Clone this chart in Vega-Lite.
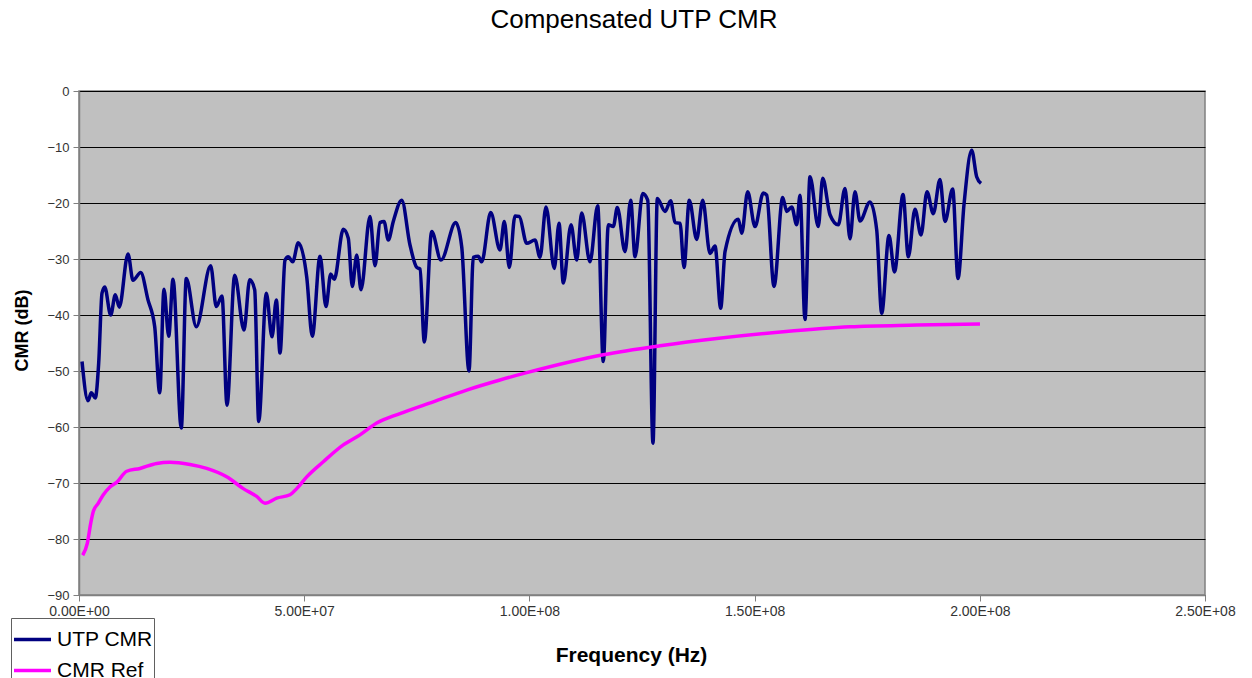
{
  "$schema": "https://vega.github.io/schema/vega-lite/v6.json",
  "width": 1126,
  "height": 504,
  "autosize": {"type": "none"},
  "padding": {"left": 79, "top": 91, "right": 47, "bottom": 83},
  "background": "white",
  "title": {
    "text": "Compensated UTP CMR",
    "font": "Liberation Sans",
    "fontSize": 26,
    "fontWeight": "normal",
    "color": "black",
    "anchor": "middle",
    "offset": 52,
    "dx": -8
  },
  "config": {
    "view": {"fill": "#C0C0C0", "stroke": "#808080", "strokeWidth": 1.5},
    "font": "Liberation Sans"
  },
  "data": {
    "values": [
      {"f": 0.67e6, "cmr": -48.3, "series": "UTP CMR"},
      {"f": 2.00e6, "cmr": -55.3, "series": "UTP CMR"},
      {"f": 2.73e6, "cmr": -53.9, "series": "UTP CMR"},
      {"f": 3.62e6, "cmr": -54.8, "series": "UTP CMR"},
      {"f": 4.37e6, "cmr": -48.6, "series": "UTP CMR"},
      {"f": 5.11e6, "cmr": -36.1, "series": "UTP CMR"},
      {"f": 5.71e6, "cmr": -35.0, "series": "UTP CMR"},
      {"f": 7.04e6, "cmr": -40.0, "series": "UTP CMR"},
      {"f": 8.06e6, "cmr": -36.4, "series": "UTP CMR"},
      {"f": 8.95e6, "cmr": -38.6, "series": "UTP CMR"},
      {"f": 10.88e6, "cmr": -29.1, "series": "UTP CMR"},
      {"f": 11.99e6, "cmr": -33.8, "series": "UTP CMR"},
      {"f": 13.70e6, "cmr": -32.4, "series": "UTP CMR"},
      {"f": 15.32e6, "cmr": -37.3, "series": "UTP CMR"},
      {"f": 16.81e6, "cmr": -42.1, "series": "UTP CMR"},
      {"f": 17.92e6, "cmr": -53.9, "series": "UTP CMR"},
      {"f": 18.87e6, "cmr": -35.4, "series": "UTP CMR"},
      {"f": 19.92e6, "cmr": -43.8, "series": "UTP CMR"},
      {"f": 20.87e6, "cmr": -33.6, "series": "UTP CMR"},
      {"f": 22.71e6, "cmr": -60.2, "series": "UTP CMR"},
      {"f": 23.82e6, "cmr": -33.5, "series": "UTP CMR"},
      {"f": 26.04e6, "cmr": -42.1, "series": "UTP CMR"},
      {"f": 29.24e6, "cmr": -31.2, "series": "UTP CMR"},
      {"f": 30.48e6, "cmr": -38.5, "series": "UTP CMR"},
      {"f": 31.75e6, "cmr": -36.6, "series": "UTP CMR"},
      {"f": 32.86e6, "cmr": -56.1, "series": "UTP CMR"},
      {"f": 34.57e6, "cmr": -32.9, "series": "UTP CMR"},
      {"f": 36.63e6, "cmr": -42.7, "series": "UTP CMR"},
      {"f": 37.90e6, "cmr": -33.7, "series": "UTP CMR"},
      {"f": 39.01e6, "cmr": -35.5, "series": "UTP CMR"},
      {"f": 39.90e6, "cmr": -59.0, "series": "UTP CMR"},
      {"f": 41.59e6, "cmr": -36.1, "series": "UTP CMR"},
      {"f": 42.85e6, "cmr": -43.9, "series": "UTP CMR"},
      {"f": 43.81e6, "cmr": -37.3, "series": "UTP CMR"},
      {"f": 44.63e6, "cmr": -46.8, "series": "UTP CMR"},
      {"f": 45.74e6, "cmr": -30.2, "series": "UTP CMR"},
      {"f": 46.47e6, "cmr": -29.6, "series": "UTP CMR"},
      {"f": 47.45e6, "cmr": -30.5, "series": "UTP CMR"},
      {"f": 48.69e6, "cmr": -27.1, "series": "UTP CMR"},
      {"f": 50.56e6, "cmr": -33.2, "series": "UTP CMR"},
      {"f": 51.80e6, "cmr": -43.8, "series": "UTP CMR"},
      {"f": 53.51e6, "cmr": -29.5, "series": "UTP CMR"},
      {"f": 54.84e6, "cmr": -38.5, "series": "UTP CMR"},
      {"f": 55.88e6, "cmr": -32.7, "series": "UTP CMR"},
      {"f": 56.68e6, "cmr": -33.6, "series": "UTP CMR"},
      {"f": 58.68e6, "cmr": -24.7, "series": "UTP CMR"},
      {"f": 59.79e6, "cmr": -26.3, "series": "UTP CMR"},
      {"f": 60.68e6, "cmr": -34.9, "series": "UTP CMR"},
      {"f": 61.66e6, "cmr": -29.3, "series": "UTP CMR"},
      {"f": 62.61e6, "cmr": -35.5, "series": "UTP CMR"},
      {"f": 64.61e6, "cmr": -22.4, "series": "UTP CMR"},
      {"f": 65.72e6, "cmr": -31.2, "series": "UTP CMR"},
      {"f": 66.83e6, "cmr": -23.5, "series": "UTP CMR"},
      {"f": 67.72e6, "cmr": -23.3, "series": "UTP CMR"},
      {"f": 68.67e6, "cmr": -26.6, "series": "UTP CMR"},
      {"f": 69.78e6, "cmr": -23.3, "series": "UTP CMR"},
      {"f": 71.65e6, "cmr": -19.5, "series": "UTP CMR"},
      {"f": 73.49e6, "cmr": -27.5, "series": "UTP CMR"},
      {"f": 74.98e6, "cmr": -31.5, "series": "UTP CMR"},
      {"f": 75.71e6, "cmr": -31.8, "series": "UTP CMR"},
      {"f": 76.67e6, "cmr": -44.8, "series": "UTP CMR"},
      {"f": 78.31e6, "cmr": -25.1, "series": "UTP CMR"},
      {"f": 80.37e6, "cmr": -30.2, "series": "UTP CMR"},
      {"f": 83.64e6, "cmr": -23.5, "series": "UTP CMR"},
      {"f": 84.97e6, "cmr": -27.8, "series": "UTP CMR"},
      {"f": 86.59e6, "cmr": -50.0, "series": "UTP CMR"},
      {"f": 87.54e6, "cmr": -29.7, "series": "UTP CMR"},
      {"f": 88.65e6, "cmr": -29.5, "series": "UTP CMR"},
      {"f": 89.41e6, "cmr": -30.5, "series": "UTP CMR"},
      {"f": 91.41e6, "cmr": -21.7, "series": "UTP CMR"},
      {"f": 93.47e6, "cmr": -28.4, "series": "UTP CMR"},
      {"f": 94.43e6, "cmr": -23.3, "series": "UTP CMR"},
      {"f": 95.54e6, "cmr": -31.5, "series": "UTP CMR"},
      {"f": 96.80e6, "cmr": -22.3, "series": "UTP CMR"},
      {"f": 97.76e6, "cmr": -22.4, "series": "UTP CMR"},
      {"f": 99.40e6, "cmr": -27.2, "series": "UTP CMR"},
      {"f": 101.24e6, "cmr": -26.6, "series": "UTP CMR"},
      {"f": 102.35e6, "cmr": -29.7, "series": "UTP CMR"},
      {"f": 103.69e6, "cmr": -20.7, "series": "UTP CMR"},
      {"f": 105.53e6, "cmr": -31.7, "series": "UTP CMR"},
      {"f": 106.57e6, "cmr": -23.6, "series": "UTP CMR"},
      {"f": 107.53e6, "cmr": -34.3, "series": "UTP CMR"},
      {"f": 109.24e6, "cmr": -23.9, "series": "UTP CMR"},
      {"f": 110.50e6, "cmr": -30.2, "series": "UTP CMR"},
      {"f": 111.61e6, "cmr": -21.8, "series": "UTP CMR"},
      {"f": 113.45e6, "cmr": -30.5, "series": "UTP CMR"},
      {"f": 115.16e6, "cmr": -20.5, "series": "UTP CMR"},
      {"f": 116.41e6, "cmr": -48.3, "series": "UTP CMR"},
      {"f": 117.52e6, "cmr": -23.9, "series": "UTP CMR"},
      {"f": 118.63e6, "cmr": -24.2, "series": "UTP CMR"},
      {"f": 119.52e6, "cmr": -20.8, "series": "UTP CMR"},
      {"f": 121.23e6, "cmr": -28.7, "series": "UTP CMR"},
      {"f": 122.49e6, "cmr": -19.5, "series": "UTP CMR"},
      {"f": 123.45e6, "cmr": -29.6, "series": "UTP CMR"},
      {"f": 125.16e6, "cmr": -18.3, "series": "UTP CMR"},
      {"f": 126.27e6, "cmr": -19.5, "series": "UTP CMR"},
      {"f": 127.44e6, "cmr": -62.9, "series": "UTP CMR"},
      {"f": 128.40e6, "cmr": -19.2, "series": "UTP CMR"},
      {"f": 130.11e6, "cmr": -21.5, "series": "UTP CMR"},
      {"f": 131.37e6, "cmr": -19.6, "series": "UTP CMR"},
      {"f": 132.33e6, "cmr": -23.5, "series": "UTP CMR"},
      {"f": 133.44e6, "cmr": -23.6, "series": "UTP CMR"},
      {"f": 134.33e6, "cmr": -31.5, "series": "UTP CMR"},
      {"f": 135.50e6, "cmr": -19.5, "series": "UTP CMR"},
      {"f": 137.14e6, "cmr": -26.5, "series": "UTP CMR"},
      {"f": 138.48e6, "cmr": -19.5, "series": "UTP CMR"},
      {"f": 140.10e6, "cmr": -29.0, "series": "UTP CMR"},
      {"f": 141.21e6, "cmr": -27.7, "series": "UTP CMR"},
      {"f": 142.47e6, "cmr": -38.8, "series": "UTP CMR"},
      {"f": 143.43e6, "cmr": -28.7, "series": "UTP CMR"},
      {"f": 146.38e6, "cmr": -22.9, "series": "UTP CMR"},
      {"f": 147.14e6, "cmr": -25.4, "series": "UTP CMR"},
      {"f": 148.47e6, "cmr": -18.0, "series": "UTP CMR"},
      {"f": 150.09e6, "cmr": -24.2, "series": "UTP CMR"},
      {"f": 151.93e6, "cmr": -18.2, "series": "UTP CMR"},
      {"f": 152.69e6, "cmr": -18.6, "series": "UTP CMR"},
      {"f": 154.31e6, "cmr": -34.9, "series": "UTP CMR"},
      {"f": 156.24e6, "cmr": -19.0, "series": "UTP CMR"},
      {"f": 157.13e6, "cmr": -21.5, "series": "UTP CMR"},
      {"f": 158.24e6, "cmr": -20.7, "series": "UTP CMR"},
      {"f": 159.35e6, "cmr": -23.9, "series": "UTP CMR"},
      {"f": 160.08e6, "cmr": -18.6, "series": "UTP CMR"},
      {"f": 161.19e6, "cmr": -40.8, "series": "UTP CMR"},
      {"f": 162.30e6, "cmr": -15.3, "series": "UTP CMR"},
      {"f": 164.14e6, "cmr": -24.2, "series": "UTP CMR"},
      {"f": 165.12e6, "cmr": -15.6, "series": "UTP CMR"},
      {"f": 166.74e6, "cmr": -22.1, "series": "UTP CMR"},
      {"f": 168.58e6, "cmr": -23.9, "series": "UTP CMR"},
      {"f": 170.07e6, "cmr": -17.4, "series": "UTP CMR"},
      {"f": 171.18e6, "cmr": -26.4, "series": "UTP CMR"},
      {"f": 172.29e6, "cmr": -18.0, "series": "UTP CMR"},
      {"f": 173.40e6, "cmr": -23.2, "series": "UTP CMR"},
      {"f": 175.62e6, "cmr": -19.8, "series": "UTP CMR"},
      {"f": 177.11e6, "cmr": -24.8, "series": "UTP CMR"},
      {"f": 178.22e6, "cmr": -39.7, "series": "UTP CMR"},
      {"f": 179.84e6, "cmr": -25.8, "series": "UTP CMR"},
      {"f": 181.06e6, "cmr": -32.3, "series": "UTP CMR"},
      {"f": 182.95e6, "cmr": -18.5, "series": "UTP CMR"},
      {"f": 184.13e6, "cmr": -29.6, "series": "UTP CMR"},
      {"f": 185.61e6, "cmr": -21.1, "series": "UTP CMR"},
      {"f": 186.94e6, "cmr": -25.7, "series": "UTP CMR"},
      {"f": 188.28e6, "cmr": -18.0, "series": "UTP CMR"},
      {"f": 189.68e6, "cmr": -21.9, "series": "UTP CMR"},
      {"f": 191.16e6, "cmr": -15.8, "series": "UTP CMR"},
      {"f": 192.27e6, "cmr": -23.3, "series": "UTP CMR"},
      {"f": 193.98e6, "cmr": -17.5, "series": "UTP CMR"},
      {"f": 195.16e6, "cmr": -33.5, "series": "UTP CMR"},
      {"f": 196.49e6, "cmr": -20.3, "series": "UTP CMR"},
      {"f": 198.20e6, "cmr": -10.6, "series": "UTP CMR"},
      {"f": 199.30e6, "cmr": -15.3, "series": "UTP CMR"},
      {"f": 200.27e6, "cmr": -16.5, "series": "UTP CMR"},
      {"f": 0.82e6, "cmr": -82.9, "series": "CMR Ref"},
      {"f": 1.84e6, "cmr": -80.8, "series": "CMR Ref"},
      {"f": 2.60e6, "cmr": -77.2, "series": "CMR Ref"},
      {"f": 3.17e6, "cmr": -75.1, "series": "CMR Ref"},
      {"f": 4.29e6, "cmr": -73.6, "series": "CMR Ref"},
      {"f": 5.40e6, "cmr": -72.1, "series": "CMR Ref"},
      {"f": 6.88e6, "cmr": -70.7, "series": "CMR Ref"},
      {"f": 8.37e6, "cmr": -69.9, "series": "CMR Ref"},
      {"f": 10.59e6, "cmr": -67.9, "series": "CMR Ref"},
      {"f": 13.54e6, "cmr": -67.4, "series": "CMR Ref"},
      {"f": 17.25e6, "cmr": -66.5, "series": "CMR Ref"},
      {"f": 20.20e6, "cmr": -66.3, "series": "CMR Ref"},
      {"f": 24.64e6, "cmr": -66.7, "series": "CMR Ref"},
      {"f": 28.35e6, "cmr": -67.4, "series": "CMR Ref"},
      {"f": 32.79e6, "cmr": -68.9, "series": "CMR Ref"},
      {"f": 36.48e6, "cmr": -71.0, "series": "CMR Ref"},
      {"f": 39.45e6, "cmr": -72.4, "series": "CMR Ref"},
      {"f": 41.30e6, "cmr": -73.6, "series": "CMR Ref"},
      {"f": 43.89e6, "cmr": -72.7, "series": "CMR Ref"},
      {"f": 46.85e6, "cmr": -72.1, "series": "CMR Ref"},
      {"f": 48.34e6, "cmr": -71.0, "series": "CMR Ref"},
      {"f": 50.56e6, "cmr": -68.9, "series": "CMR Ref"},
      {"f": 54.24e6, "cmr": -66.2, "series": "CMR Ref"},
      {"f": 58.68e6, "cmr": -63.2, "series": "CMR Ref"},
      {"f": 62.39e6, "cmr": -61.4, "series": "CMR Ref"},
      {"f": 66.10e6, "cmr": -59.3, "series": "CMR Ref"},
      {"f": 71.27e6, "cmr": -57.6, "series": "CMR Ref"},
      {"f": 78.66e6, "cmr": -55.5, "series": "CMR Ref"},
      {"f": 86.08e6, "cmr": -53.4, "series": "CMR Ref"},
      {"f": 93.47e6, "cmr": -51.6, "series": "CMR Ref"},
      {"f": 99.40e6, "cmr": -50.3, "series": "CMR Ref"},
      {"f": 116.41e6, "cmr": -47.1, "series": "CMR Ref"},
      {"f": 129.0e6, "cmr": -45.5, "series": "CMR Ref"},
      {"f": 141.59e6, "cmr": -44.2, "series": "CMR Ref"},
      {"f": 156.37e6, "cmr": -43.0, "series": "CMR Ref"},
      {"f": 171.18e6, "cmr": -42.1, "series": "CMR Ref"},
      {"f": 186.0e6, "cmr": -41.8, "series": "CMR Ref"},
      {"f": 200.04e6, "cmr": -41.6, "series": "CMR Ref"}
    ]
  },
  "mark": {"type": "line", "strokeWidth": 3.5, "interpolate": "monotone", "clip": true},
  "encoding": {
    "x": {
      "field": "f",
      "type": "quantitative",
      "scale": {"domain": [0, 250000000], "nice": false, "zero": false},
      "axis": {
        "title": "Frequency (Hz)",
        "titleFont": "Liberation Sans",
        "titleFontSize": 21,
        "titleFontWeight": "bold",
        "titleColor": "black",
        "titleX": 552,
        "titleY": 60,
        "titleBaseline": "middle",
        "titleAlign": "center",
        "values": [0, 50000000, 100000000, 150000000, 200000000, 250000000],
        "labelExpr": "replace(format(datum.value, '.2e'), 'e+', 'E+0')",
        "labelFont": "Liberation Sans",
        "labelFontSize": 14,
        "labelColor": "#333333",
        "labelPadding": 3,
        "labelFlush": false,
        "labelOverlap": false,
        "tickColor": "#808080",
        "tickSize": 6,
        "domainColor": "#808080",
        "domainWidth": 1.5,
        "grid": false
      }
    },
    "y": {
      "field": "cmr",
      "type": "quantitative",
      "scale": {"domain": [-90, 0], "nice": false, "zero": false},
      "axis": {
        "title": "CMR (dB)",
        "titleFont": "Liberation Sans",
        "titleFontSize": 18,
        "titleFontWeight": "bold",
        "titleColor": "black",
        "titleX": -57,
        "titleY": 239,
        "titleAngle": -90,
        "titleBaseline": "middle",
        "titleAlign": "center",
        "values": [-90, -80, -70, -60, -50, -40, -30, -20, -10, 0],
        "labelFont": "Liberation Sans",
        "labelFontSize": 13,
        "labelColor": "#333333",
        "labelPadding": 4,
        "labelFlush": false,
        "tickColor": "#808080",
        "tickSize": 6,
        "domainColor": "#808080",
        "domainWidth": 1.5,
        "grid": true,
        "gridColor": "black",
        "gridWidth": 1
      }
    },
    "color": {
      "field": "series",
      "type": "nominal",
      "scale": {"domain": ["UTP CMR", "CMR Ref"], "range": ["#000080", "#FF00FF"]},
      "legend": {
        "title": null,
        "orient": "none",
        "legendX": -68,
        "legendY": 527,
        "symbolType": "stroke",
        "symbolSize": 1369,
        "symbolStrokeWidth": 3.5,
        "labelFont": "Liberation Sans",
        "labelFontSize": 21,
        "labelColor": "black",
        "labelOffset": 4,
        "rowPadding": -4,
        "padding": 1,
        "strokeColor": "#606060",
        "fillColor": "white"
      }
    }
  }
}
